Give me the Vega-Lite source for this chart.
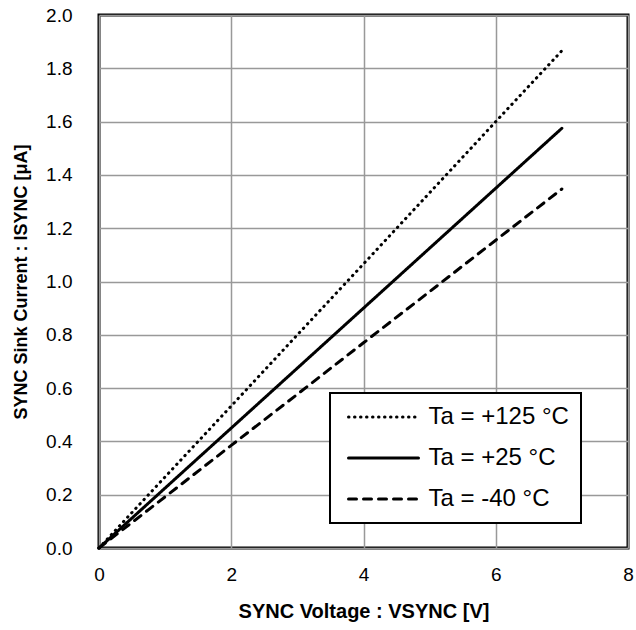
{
  "$schema": "https://vega.github.io/schema/vega-lite/v6.json",
  "width": 529,
  "height": 533,
  "autosize": {"type": "none"},
  "padding": {"left": 99, "top": 15, "right": 8, "bottom": 82},
  "background": "white",
  "config": {
    "font": "Liberation Sans",
    "view": {"stroke": "black", "strokeWidth": 3},
    "axis": {
      "labelFont": "Liberation Sans",
      "labelFontSize": 19,
      "labelColor": "black",
      "labelFlush": false,
      "titleFont": "Liberation Sans",
      "titleFontWeight": "bold",
      "titleColor": "black",
      "ticks": false,
      "domain": false,
      "gridColor": "#999999",
      "gridWidth": 1.5,
      "gridOpacity": 1
    }
  },
  "data": {
    "values": [
      {"v": 0, "i": 0, "ta": "Ta = +125 °C"},
      {"v": 1, "i": 0.267, "ta": "Ta = +125 °C"},
      {"v": 2, "i": 0.533, "ta": "Ta = +125 °C"},
      {"v": 3, "i": 0.800, "ta": "Ta = +125 °C"},
      {"v": 4, "i": 1.066, "ta": "Ta = +125 °C"},
      {"v": 5, "i": 1.333, "ta": "Ta = +125 °C"},
      {"v": 6, "i": 1.600, "ta": "Ta = +125 °C"},
      {"v": 7, "i": 1.866, "ta": "Ta = +125 °C"},
      {"v": 0, "i": 0, "ta": "Ta = +25 °C"},
      {"v": 1, "i": 0.225, "ta": "Ta = +25 °C"},
      {"v": 2, "i": 0.450, "ta": "Ta = +25 °C"},
      {"v": 3, "i": 0.675, "ta": "Ta = +25 °C"},
      {"v": 4, "i": 0.900, "ta": "Ta = +25 °C"},
      {"v": 5, "i": 1.125, "ta": "Ta = +25 °C"},
      {"v": 6, "i": 1.350, "ta": "Ta = +25 °C"},
      {"v": 7, "i": 1.575, "ta": "Ta = +25 °C"},
      {"v": 0, "i": 0, "ta": "Ta = -40 °C"},
      {"v": 1, "i": 0.192, "ta": "Ta = -40 °C"},
      {"v": 2, "i": 0.385, "ta": "Ta = -40 °C"},
      {"v": 3, "i": 0.577, "ta": "Ta = -40 °C"},
      {"v": 4, "i": 0.770, "ta": "Ta = -40 °C"},
      {"v": 5, "i": 0.962, "ta": "Ta = -40 °C"},
      {"v": 6, "i": 1.155, "ta": "Ta = -40 °C"},
      {"v": 7, "i": 1.347, "ta": "Ta = -40 °C"}
    ]
  },
  "mark": {"type": "line", "color": "black", "strokeWidth": 3, "strokeCap": "round"},
  "encoding": {
    "x": {
      "field": "v", "type": "quantitative",
      "scale": {"domain": [0, 8], "nice": false},
      "axis": {"values": [0, 2, 4, 6, 8], "labelPadding": 17, "titlePadding": 17, "titleFontSize": 20, "title": "SYNC Voltage : VSYNC [V]"}
    },
    "y": {
      "field": "i", "type": "quantitative",
      "scale": {"domain": [0, 2], "nice": false},
      "axis": {"values": [0, 0.2, 0.4, 0.6, 0.8, 1.0, 1.2, 1.4, 1.6, 1.8, 2.0], "format": ".1f", "labelPadding": 27, "titlePadding": 15, "titleFontSize": 18, "title": "SYNC Sink Current : ISYNC [μA]"}
    },
    "strokeDash": {
      "field": "ta", "type": "nominal",
      "scale": {
        "domain": ["Ta = +125 °C", "Ta = +25 °C", "Ta = -40 °C"],
        "range": [[0.5, 5.5], [1, 0], [8, 7]]
      },
      "legend": {
        "title": null,
        "orient": "none",
        "legendX": 231,
        "legendY": 378,
        "fillColor": "white",
        "strokeColor": "black",
        "padding": 12,
        "symbolType": "M-10,0H10",
        "symbolSize": 49,
        "symbolOffset": 29.5,
        "symbolStrokeWidth": 3,
        "symbolStrokeColor": "black",
        "labelFontSize": 24,
        "labelFont": "Liberation Sans",
        "labelColor": "black",
        "labelOffset": 33,
        "rowPadding": 17,
        "encode": {
          "legend": {"update": {"strokeWidth": {"value": 2}}},
          "symbols": {"update": {"strokeCap": {"value": "round"}}}
        }
      }
    }
  }
}
